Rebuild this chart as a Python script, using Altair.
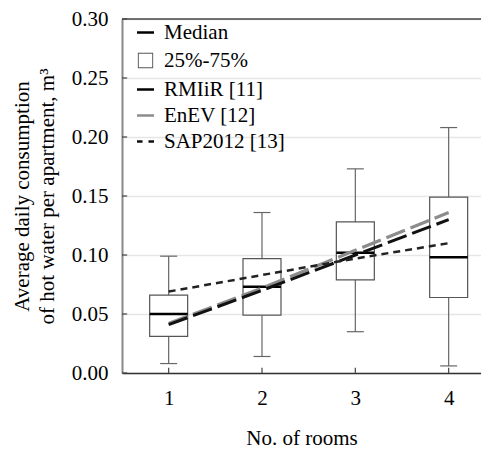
import altair as alt
import pandas as pd

rooms = [1, 2, 3, 4]
whisker_low = [0.008, 0.014, 0.035, 0.006]
q1 = [0.031, 0.049, 0.079, 0.064]
median = [0.050, 0.073, 0.102, 0.098]
q3 = [0.066, 0.097, 0.128, 0.149]
whisker_high = [0.099, 0.136, 0.173, 0.208]

rmiir = [0.041, 0.070, 0.100, 0.130]
enev = [0.042, 0.072, 0.104, 0.136]
sap = [0.069, 0.083, 0.097, 0.110]

legend_labels = ["Median", "25%-75%", "RMIiR [11]", "EnEV [12]", "SAP2012 [13]"]
y_ticks = [0.0, 0.05, 0.10, 0.15, 0.20, 0.25, 0.30]

FONT = "Liberation Serif"
BOX_HALF = 0.2035
CAP_HALF = 0.091

box_df = pd.DataFrame({"room": rooms, "low": whisker_low, "q1": q1,
                       "med": median, "q3": q3, "high": whisker_high})

xs = alt.Scale(domain=[0.5, 4.3465], nice=False, zero=False)
ys = alt.Scale(domain=[0, 0.30], nice=False, zero=False)
xaxis = alt.Axis(values=rooms, format="d", title="No. of rooms", grid=False, ticks=False,
                 labelPadding=14, titlePadding=19, domainColor="#333", domainWidth=1.5)
yaxis = alt.Axis(values=y_ticks, format=".2f",
                 title=["Average daily consumption", "of hot water per apartment, m\u00b3"],
                 grid=True, gridColor="#e6e6e6", gridWidth=1.5, ticks=False,
                 labelPadding=14, titlePadding=14, domainColor="#888", domainWidth=2)


def X(f):
    return alt.X(f, type="quantitative", scale=xs, axis=xaxis)


def Y(f):
    return alt.Y(f, type="quantitative", scale=ys, axis=yaxis)


base = alt.Chart(box_df).transform_calculate(
    xl=f"datum.room - {BOX_HALF}", xr=f"datum.room + {BOX_HALF}",
    cl=f"datum.room - {CAP_HALF}", cr=f"datum.room + {CAP_HALF}")

wh_lo = base.mark_rule(color="#666", strokeWidth=1.2).encode(x=X("room"), y=Y("low"), y2="q1")
wh_hi = base.mark_rule(color="#666", strokeWidth=1.2).encode(x=X("room"), y=Y("q3"), y2="high")
cap_lo = base.mark_rule(color="#666", strokeWidth=1.2).encode(x=X("cl"), x2="cr", y=Y("low"))
cap_hi = base.mark_rule(color="#666", strokeWidth=1.2).encode(x=X("cl"), x2="cr", y=Y("high"))
boxes = base.mark_rect(fill="white", stroke="#555", strokeWidth=1.2).encode(
    x=X("xl"), x2="xr", y=Y("q1"), y2="q3")
meds = base.mark_rule(color="black", strokeWidth=2.5).encode(x=X("xl"), x2="xr", y=Y("med"))


def series(vals, color, dash, width):
    df = pd.DataFrame({"room": rooms, "v": vals})
    return alt.Chart(df).mark_line(color=color, strokeDash=dash, strokeWidth=width).encode(
        x=X("room"), y=Y("v"))


l_enev = series(enev, "#8c8c8c", [20, 6], 3.2)
l_rmiir = series(rmiir, "#111", [20, 6], 3)
l_sap = series(sap, "#222", [7, 5], 2.5)

# inward axis ticks
yt = alt.Chart(pd.DataFrame({"v": y_ticks})).mark_rule(color="#444", strokeWidth=1.2).encode(
    x=alt.datum(0.5), x2=alt.datum(0.555), y=Y("v"))
xt = alt.Chart(pd.DataFrame({"room": rooms})).mark_rule(color="#444", strokeWidth=1.2).encode(
    x=X("room"), y=alt.datum(0), y2=alt.datum(0.0045))
top = alt.Chart(pd.DataFrame({"v": [0.30]})).mark_rule(color="#444", strokeWidth=1.5).encode(y=Y("v"))

line_path = "M-1,0H1"
# square ring (outer clockwise, inner counter-clockwise) drawn by fill -> thin outline
box_path = "M-0.9,-0.9H0.9V0.9H-0.9Z M-0.79,-0.79V0.79H0.79V-0.79Z"
dash_path = "M-1,0H-0.35M0.35,0H1"
leg = alt.Legend(
    title=None, orient="none", legendX=13, legendY=3, labelFont=FONT,
    labelFontSize=21, labelColor="black", symbolSize=289, rowPadding=4,
    labelOffset=8, padding=0, symbolStrokeWidth=2.5, symbolOpacity=1,
)
legend_layer = alt.Chart(pd.DataFrame({"label": legend_labels})).transform_filter(
    "false").mark_point(filled=True, opacity=1).encode(
    shape=alt.Shape("label:N", scale=alt.Scale(domain=legend_labels,
                    range=[line_path, box_path, line_path, line_path, dash_path]), legend=leg),
    stroke=alt.Stroke("label:N", scale=alt.Scale(domain=legend_labels,
                      range=["#000", "transparent", "#000", "#8c8c8c", "#111"]), legend=leg),
    fill=alt.Fill("label:N", scale=alt.Scale(domain=legend_labels,
                  range=["transparent", "#555", "transparent", "transparent", "transparent"]),
                  legend=leg),
)

chart = alt.layer(wh_lo, wh_hi, cap_lo, cap_hi, boxes, meds, l_enev, l_rmiir, l_sap,
                  yt, xt, top, legend_layer).properties(
    width=359, height=354,
    autosize=alt.AutoSizeParams(type="none"),
    padding={"left": 114, "top": 11, "right": 0, "bottom": 76},
).configure_view(stroke=None).configure_axis(
    labelFont=FONT, labelFontSize=21, labelColor="black",
    titleFont=FONT, titleFontSize=21, titleFontWeight="normal", titleColor="black",
    titleLineHeight=25,
).configure_legend(labelFont=FONT, labelFontSize=21, labelColor="black")

chart.save("out.html", embed_options={"renderer": "svg", "actions": False})
